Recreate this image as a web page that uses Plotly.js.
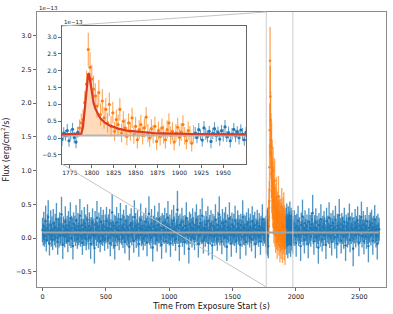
<!DOCTYPE html>
<html><head><meta charset="utf-8">
<script src="https://cdn.plot.ly/plotly-3.0.1.min.js"></script>
<style>html,body{margin:0;padding:0;background:#fff}#chart{width:393px;height:314px}</style>
</head><body><div id="chart"></div>
<script>
// ---- data (flux in units of 1e-13 erg/cm^2/s) ----
// quiescent segment A: starts 0 s, 5 s bins
const segA_start = 0, segA_step = 5;
const fluxA = [
0.12,0.05,0.18,0.02,0.10,0.25,-0.03,0.08,0.15,0.31,0.06,-0.08,0.11,0.19,0.04,0.13,-0.02,0.22,0.09,0.07,
0.16,0.01,0.28,0.10,-0.06,0.14,0.08,0.20,0.03,0.12,0.35,0.05,-0.10,0.17,0.09,0.02,0.24,0.11,0.06,0.13,
-0.04,0.18,0.10,0.07,0.29,0.00,0.15,0.09,-0.12,0.21,0.08,0.14,0.04,0.26,0.11,-0.01,0.17,0.06,0.12,0.33,
0.03,0.10,0.19,-0.07,0.13,0.08,0.22,0.05,0.16,-0.02,0.11,0.27,0.09,0.01,0.18,0.12,-0.09,0.15,0.07,0.23,
0.10,0.04,-0.15,0.20,0.13,0.06,0.30,0.09,0.02,0.17,0.11,-0.05,0.24,0.08,0.14,0.03,0.19,0.10,-0.03,0.16,
0.07,0.25,0.12,0.00,0.15,0.09,0.21,-0.08,0.13,0.06,0.38,0.10,0.04,0.18,-0.11,0.14,0.08,0.23,0.02,0.12,
0.17,-0.02,0.09,0.28,0.11,0.05,0.16,0.01,0.20,0.13,-0.06,0.10,0.26,0.07,0.15,0.03,0.12,-0.13,0.19,0.08,
0.22,0.06,0.14,0.10,-0.04,0.31,0.09,0.17,0.02,0.12,0.20,0.05,-0.09,0.15,0.11,0.27,0.04,0.13,0.08,-0.01,
0.18,0.10,0.03,0.24,0.12,-0.07,0.16,0.09,0.36,0.05,0.14,0.01,0.21,0.11,-0.14,0.17,0.07,0.25,0.10,0.04,
0.13,-0.03,0.19,0.08,0.28,0.12,0.02,0.15,-0.10,0.20,0.09,0.14,0.06,0.23,0.11,-0.05,0.18,0.07,0.30,0.10,
0.05,0.16,-0.08,0.12,0.21,0.09,0.03,0.26,0.13,0.07,-0.02,0.17,0.10,0.42,0.06,0.14,-0.12,0.19,0.08,0.11,
0.24,0.02,0.15,0.10,-0.06,0.18,0.12,0.29,0.05,0.13,0.09,-0.16,0.20,0.07,0.16,0.11,0.01,0.23,0.14,0.06,
-0.01,0.19,0.10,0.27,0.08,0.14,-0.09,0.17,0.04,0.22,0.12,0.07,0.33,0.09,-0.04,0.15,0.11,0.02,0.20,0.13,
0.08,0.25,-0.07,0.12,0.16,0.05,0.21,0.10,-0.11,0.18,0.09,0.14,0.03,0.27,0.11,0.06,-0.02,0.19,0.12,0.35,
0.04,0.15,0.09,-0.05,0.22,0.13,0.07,0.18,0.01,0.24,0.10,-0.13,0.16,0.08,0.12,0.29,0.05,0.14,-0.08,0.20,
0.11,0.06,0.17,0.03,0.26,0.09,-0.04,0.13,0.21,0.07,0.15,0.10,-0.10,0.19,0.12,0.02,0.31,0.08,0.16,0.05,
0.14,-0.06,0.20,0.10,0.07,0.23,0.12,0.01,0.17,0.09,-0.02,0.25,0.11,0.15,0.06,0.19,-0.09,0.13,0.08,0.22,
0.10,0.03,0.18,0.12,-0.05,0.16,0.09,0.27,0.06,0.13,0.11,0.08];
const errA = [
0.18,0.16,0.21,0.15,0.19,0.23,0.17,0.14,0.20,0.25,0.16,0.18,0.15,0.22,0.17,0.19,0.16,0.21,0.14,0.18,
0.20,0.15,0.24,0.17,0.19,0.16,0.22,0.18,0.14,0.20,0.26,0.17,0.21,0.15,0.19,0.16,0.23,0.18,0.15,0.20,
0.17,0.22,0.16,0.19,0.24,0.15,0.18,0.21,0.20,0.17,0.14,0.19,0.16,0.23,0.18,0.15,0.20,0.17,0.19,0.25,
0.16,0.19,0.22,0.18,0.15,0.20,0.24,0.17,0.19,0.16,0.21,0.23,0.15,0.18,0.20,0.17,0.22,0.16,0.19,0.21,
0.19,0.17,0.23,0.20,0.16,0.18,0.25,0.15,0.17,0.21,0.19,0.16,0.22,0.18,0.20,0.15,0.23,0.17,0.16,0.19,
0.15,0.21,0.18,0.16,0.20,0.17,0.22,0.19,0.15,0.18,0.27,0.16,0.20,0.17,0.21,0.19,0.16,0.23,0.14,0.18,
0.20,0.16,0.17,0.24,0.18,0.15,0.19,0.16,0.22,0.20,0.17,0.15,0.23,0.18,0.19,0.16,0.21,0.20,0.17,0.15,
0.22,0.17,0.19,0.16,0.18,0.25,0.15,0.20,0.17,0.16,0.21,0.18,0.19,0.17,0.15,0.24,0.16,0.20,0.18,0.17,
0.19,0.16,0.15,0.21,0.18,0.20,0.17,0.16,0.26,0.15,0.19,0.17,0.22,0.18,0.21,0.16,0.17,0.23,0.19,0.15,
0.18,0.17,0.20,0.16,0.24,0.19,0.15,0.18,0.21,0.17,0.16,0.20,0.15,0.22,0.18,0.17,0.19,0.16,0.25,0.18,
0.16,0.19,0.20,0.17,0.21,0.18,0.15,0.23,0.19,0.16,0.17,0.20,0.18,0.28,0.15,0.19,0.22,0.17,0.16,0.18,
0.21,0.15,0.18,0.17,0.19,0.16,0.20,0.24,0.15,0.18,0.17,0.22,0.19,0.16,0.20,0.18,0.15,0.21,0.17,0.16,
0.17,0.20,0.16,0.23,0.18,0.19,0.20,0.17,0.15,0.21,0.18,0.16,0.26,0.17,0.19,0.18,0.16,0.15,0.20,0.19,
0.16,0.22,0.19,0.17,0.18,0.15,0.20,0.16,0.21,0.18,0.17,0.19,0.15,0.23,0.18,0.16,0.17,0.20,0.19,0.27,
0.15,0.18,0.17,0.19,0.21,0.16,0.18,0.20,0.15,0.22,0.17,0.21,0.19,0.16,0.18,0.24,0.15,0.19,0.20,0.18,
0.18,0.16,0.19,0.15,0.22,0.17,0.18,0.16,0.20,0.17,0.19,0.18,0.21,0.17,0.16,0.15,0.25,0.18,0.19,0.16,
0.19,0.20,0.18,0.16,0.17,0.21,0.18,0.15,0.19,0.17,0.18,0.22,0.16,0.19,0.17,0.20,0.21,0.16,0.18,0.20,
0.17,0.16,0.19,0.18,0.20,0.17,0.16,0.23,0.18,0.17,0.19,0.16];

// pre-flare segment B: starts 1760 s, 2 s bins
const segB_start = 1760, segB_step = 2;
const fluxB = [0.12,0.05,0.18,-0.04,0.15,0.08,0.22,-0.08,0.10,0.26,0.02,-0.12,0.17];
const errB  = [0.16,0.18,0.15,0.19,0.17,0.16,0.20,0.18,0.15,0.19,0.17,0.18,0.16];

// flare (orange): starts 1786 s, 2 s bins
const flareStart = 1786, flareStep = 2;
const flareFlux = [
0.30,0.45,0.55,1.05,1.60,2.63,2.10,1.75,1.45,1.25,0.95,1.35,0.70,1.10,0.60,0.85,0.45,1.00,0.35,0.75,
0.20,0.55,0.40,0.85,0.15,0.50,0.30,0.05,0.45,0.20,0.60,0.10,0.35,-0.05,0.25,0.40,0.08,0.30,0.62,0.15,
0.00,0.28,0.12,0.35,-0.10,0.22,0.05,0.30,0.10,-0.05,0.25,0.45,0.08,0.20,-0.12,0.15,0.32,0.02,0.18,0.40,
0.07,-0.08,0.22,0.10,-0.15,0.12];
const flareErr = [
0.25,0.28,0.30,0.35,0.40,0.50,0.45,0.42,0.40,0.38,0.35,0.38,0.33,0.36,0.32,0.34,0.30,0.35,0.30,0.32,
0.28,0.30,0.30,0.33,0.28,0.30,0.28,0.27,0.29,0.28,0.30,0.27,0.28,0.26,0.28,0.29,0.27,0.28,0.30,0.27,
0.26,0.28,0.27,0.28,0.26,0.27,0.26,0.28,0.27,0.26,0.27,0.29,0.26,0.27,0.25,0.27,0.28,0.26,0.27,0.28,
0.26,0.25,0.27,0.26,0.25,0.26];

// post-flare segment C: starts 1918 s, 2 s bins
const segC_start = 1918, segC_step = 2;
const fluxC = [0.15,0.02,0.25,0.10,-0.06,0.30,0.12,0.05,0.20,-0.10,0.14,0.28,0.07,0.18,-0.03,0.22,0.09,0.33,0.04,0.16,-0.08,0.12,0.26,0.06,0.19,0.01,0.24,0.11,-0.05,0.17,0.08];
const errC  = [0.18,0.17,0.20,0.16,0.19,0.21,0.17,0.18,0.16,0.20,0.17,0.19,0.18,0.16,0.20,0.17,0.19,0.21,0.16,0.18,0.20,0.17,0.19,0.18,0.16,0.20,0.17,0.19,0.18,0.16,0.19];

// quiescent segment D: starts 1982 s, 5 s bins
const segD_start = 1982, segD_step = 5;
const fluxD = [
0.09,0.21,0.04,0.15,-0.07,0.18,0.11,0.26,0.03,0.13,0.08,-0.12,0.19,0.10,0.32,0.06,0.14,-0.03,0.22,0.12,
0.05,0.17,0.10,-0.09,0.24,0.08,0.15,0.02,0.20,0.13,0.37,0.07,-0.05,0.16,0.11,0.23,0.01,0.14,0.09,-0.14,
0.19,0.12,0.06,0.28,0.10,-0.02,0.17,0.08,0.21,0.14,0.04,-0.10,0.25,0.11,0.16,0.07,0.30,0.03,0.13,0.18,
-0.06,0.12,0.22,0.09,0.15,0.01,0.27,0.10,-0.08,0.18,0.06,0.14,0.34,0.08,0.12,-0.04,0.20,0.11,0.16,0.02,
0.24,0.09,-0.11,0.17,0.13,0.05,0.21,0.10,0.29,-0.03,0.15,0.07,0.19,0.12,-0.16,0.14,0.08,0.23,0.04,0.16,
0.11,0.26,0.06,-0.07,0.18,0.10,0.14,0.31,0.03,0.12,0.20,-0.05,0.09,0.17,0.13,0.02,0.25,0.08,-0.12,0.15,
0.10,0.19,0.05,0.22,0.12,-0.04,0.16,0.08,0.27,0.11,0.03,0.14,-0.09,0.18,0.07,0.13];
const errD = [
0.17,0.20,0.16,0.19,0.21,0.18,0.16,0.22,0.15,0.18,0.17,0.22,0.19,0.16,0.25,0.17,0.18,0.20,0.19,0.16,
0.16,0.18,0.17,0.21,0.20,0.16,0.19,0.15,0.18,0.17,0.27,0.16,0.20,0.18,0.17,0.21,0.16,0.19,0.18,0.24,
0.18,0.16,0.19,0.22,0.17,0.18,0.16,0.20,0.19,0.17,0.16,0.21,0.20,0.18,0.17,0.16,0.23,0.18,0.17,0.19,
0.20,0.17,0.19,0.16,0.18,0.17,0.21,0.16,0.22,0.18,0.17,0.19,0.24,0.16,0.18,0.19,0.17,0.20,0.16,0.18,
0.21,0.16,0.23,0.18,0.17,0.19,0.16,0.20,0.22,0.18,0.17,0.16,0.19,0.18,0.26,0.17,0.16,0.20,0.18,0.17,
0.18,0.21,0.17,0.20,0.16,0.18,0.19,0.23,0.17,0.16,0.20,0.19,0.18,0.17,0.16,0.18,0.21,0.17,0.24,0.19,
0.17,0.19,0.16,0.20,0.18,0.21,0.17,0.16,0.22,0.18,0.17,0.19,0.23,0.18,0.16,0.17];

// flare model fit (red curve)
const modelTime = [1766,1780,1786,1788,1790,1792,1794,1796,1797,1798,1800,1802,1804,1806,1808,1810,1815,1820,1825,1830,1840,1850,1860,1870,1880,1890,1900,1916,1930,1950,1976];
const modelFlux = [0.11,0.11,0.11,0.13,0.35,0.95,1.55,1.92,1.90,1.70,1.30,1.05,0.88,0.76,0.66,0.58,0.46,0.38,0.32,0.28,0.22,0.19,0.16,0.15,0.14,0.13,0.125,0.12,0.115,0.11,0.11];

// quiescent level (grey line)
const quiescentTime = [0, 2660];
const quiescentFlux = [0.08, 0.08];

// inset window
const insetRange = [1766, 1976];

// ---- build ----
function times(start, step, n){ const t=[]; for(let i=0;i<n;i++) t.push(start+i*step); return t; }
const blueT = [].concat(times(segA_start,segA_step,fluxA.length), times(segB_start,segB_step,fluxB.length),
                        times(segC_start,segC_step,fluxC.length), times(segD_start,segD_step,fluxD.length));
const blueF = [].concat(fluxA, fluxB, fluxC, fluxD);
const blueE = [].concat(errA, errB, errC, errD);
const flareT = times(flareStart, flareStep, flareFlux.length);

const fillIdx = modelTime.map((t,i)=>i).filter(i => modelTime[i] >= 1786 && modelTime[i] <= 1916);
const fillT = fillIdx.map(i=>modelTime[i]);
const fillF = fillIdx.map(i=>modelFlux[i]);
const fillBase = fillIdx.map(()=>quiescentFlux[0]);

const BLUE = '#1f77b4', ORANGE = '#ff7f0e';
function errTrace(x, y, e, col, errCol, xa, ya, msize, thick){
  return {type:'scatter', mode:'markers', x:x, y:y, xaxis:xa, yaxis:ya,
    marker:{color:col, size:msize},
    error_y:{type:'data', array:e, visible:true, color:errCol, thickness:thick, width:0},
    hoverinfo:'skip', showlegend:false, cliponaxis:true};
}

const traces = [
  errTrace(blueT, blueF, blueE, BLUE, 'rgba(31,119,180,0.78)', 'x', 'y', 2.4, 1.35),
  errTrace(flareT, flareFlux, flareErr, 'rgba(255,127,14,0.9)', 'rgba(255,127,14,0.7)', 'x', 'y', 2.6, 1.3),
  {type:'scatter', mode:'lines', x:quiescentTime, y:quiescentFlux, xaxis:'x', yaxis:'y',
   line:{color:'#a3a3a3', width:2}, hoverinfo:'skip'},
  // inset
  errTrace(blueT, blueF, blueE, BLUE, 'rgba(31,119,180,0.7)', 'x2', 'y2', 3.2, 1.1),
  errTrace(flareT, flareFlux, flareErr, ORANGE, 'rgba(255,127,14,0.7)', 'x2', 'y2', 3.2, 1.1),
  {type:'scatter', mode:'lines', x:fillT, y:fillBase, xaxis:'x2', yaxis:'y2',
   line:{width:0, color:'rgba(0,0,0,0)'}, hoverinfo:'skip'},
  {type:'scatter', mode:'lines', x:fillT, y:fillF, xaxis:'x2', yaxis:'y2', fill:'tonexty',
   fillcolor:'rgba(255,150,60,0.35)', line:{width:0, color:'rgba(0,0,0,0)'}, hoverinfo:'skip'},
  {type:'scatter', mode:'lines', x:[insetRange[0]-5, insetRange[1]+5], y:quiescentFlux, xaxis:'x2', yaxis:'y2',
   line:{color:'#b5b5b5', width:2}, hoverinfo:'skip'},
  {type:'scatter', mode:'lines', x:modelTime, y:modelFlux, xaxis:'x2', yaxis:'y2',
   line:{color:'#dc3a26', width:2.2}, hoverinfo:'skip'}
];

const FONT = 'DejaVu Sans, sans-serif';
const mainX = [-43.4, 2711], mainY = [-0.727, 3.353];
const insetDomX = [0.0716, 0.599], insetDomY = [0.447, 0.949];
const rectPaperX0 = (insetRange[0]-mainX[0])/(mainX[1]-mainX[0]);

const axBase = {showgrid:false, zeroline:false, showline:true, mirror:true, ticks:'outside', ticklen:3,
  tickwidth:0.8, tickcolor:'#444'};

const layout = {
  width:393, height:314,
  margin:{l:37, r:7, t:12, b:27},
  paper_bgcolor:'#ffffff', plot_bgcolor:'#ffffff',
  showlegend:false,
  font:{family:FONT, size:6.5, color:'#222'},
  xaxis:Object.assign({}, axBase, {domain:[0,1], anchor:'y', range:mainX,
    tickvals:[0,500,1000,1500,2000,2500], linecolor:'#8a8a8a', linewidth:1,
    tickfont:{size:6.5, family:FONT, color:'#222'},
    title:{text:'Time From Exposure Start (s)', font:{size:8, family:FONT, color:'#111'}, standoff:3}}),
  yaxis:Object.assign({}, axBase, {domain:[0,1], anchor:'x', range:mainY,
    tickvals:[-0.5,0,0.5,1,1.5,2,2.5,3], tickformat:'.1f', linecolor:'#8a8a8a', linewidth:1,
    tickfont:{size:6.5, family:FONT, color:'#222'},
    title:{text:'Flux (erg/cm<sup>2</sup>/s)', font:{size:8, family:FONT, color:'#111'}, standoff:5}}),
  xaxis2:Object.assign({}, axBase, {domain:insetDomX, anchor:'y2', range:insetRange,
    tickvals:[1775,1800,1825,1850,1875,1900,1925,1950], linecolor:'#666', linewidth:1,
    tickfont:{size:6, family:FONT, color:'#222'}}),
  yaxis2:Object.assign({}, axBase, {domain:insetDomY, anchor:'x2', range:[-0.772, 3.326],
    tickvals:[-0.5,0,0.5,1,1.5,2,2.5,3], tickformat:'.1f', linecolor:'#666', linewidth:1,
    tickfont:{size:6, family:FONT, color:'#222'}}),
  shapes:[
    {type:'line', xref:'x', yref:'paper', x0:insetRange[0], x1:insetRange[0], y0:0, y1:1, line:{color:'#cccccc', width:1}},
    {type:'line', xref:'x', yref:'paper', x0:insetRange[1], x1:insetRange[1], y0:0, y1:1, line:{color:'#cccccc', width:1}},
    {type:'line', xref:'paper', yref:'paper', x0:insetDomX[0], y0:insetDomY[1], x1:rectPaperX0, y1:1, line:{color:'#c4c4c4', width:1}},
    {type:'line', xref:'paper', yref:'paper', x0:insetDomX[0], y0:insetDomY[0], x1:rectPaperX0, y1:0, line:{color:'#c4c4c4', width:1}}
  ],
  annotations:[
    {xref:'paper', yref:'paper', x:0, y:1, xanchor:'left', yanchor:'bottom', yshift:-1, text:'1e\u221213', showarrow:false, font:{size:5.5, family:FONT, color:'#222'}},
    {xref:'paper', yref:'paper', x:insetDomX[0], y:insetDomY[1], xanchor:'left', yanchor:'bottom', yshift:-1, text:'1e\u221213', showarrow:false, font:{size:5.5, family:FONT, color:'#222'}}
  ]
};

Plotly.newPlot('chart', traces, layout, {displayModeBar:false, staticPlot:true});
</script></body></html>
